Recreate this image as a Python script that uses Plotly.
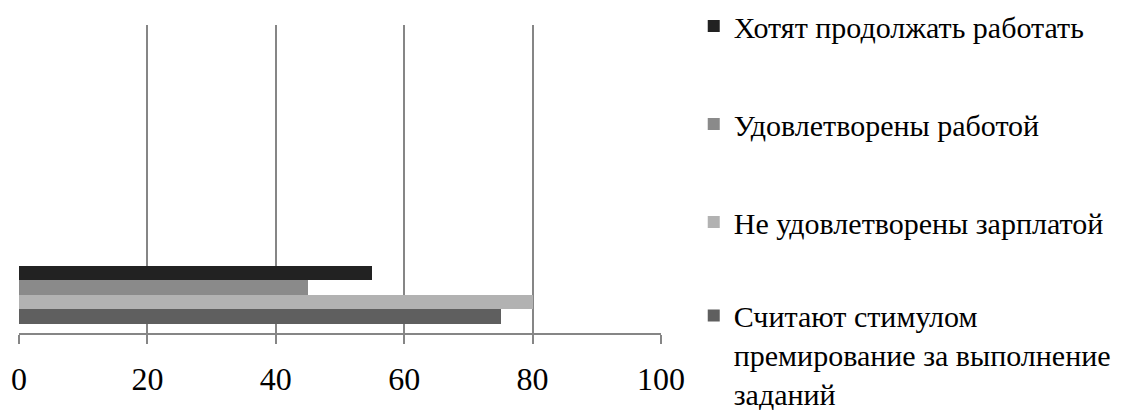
import plotly.graph_objects as go

category = [0]
series_names = [
    "Считают стимулом<br>премирование за выполнение<br>заданий",
    "Не удовлетворены зарплатой",
    "Удовлетворены работой",
    "Хотят продолжать работать",
]
series_values = [75, 80, 45, 55]
series_colors = ["#5f5f5f", "#b2b2b2", "#8a8a8a", "#222222"]
legend_ranks = [4, 3, 2, 1]
legend_ids = ["legend2", "legend", "legend", "legend"]
x_ticks = [0, 20, 40, 60, 80, 100]

FONT = "Liberation Serif"
LEG_FONT = dict(size=30, family=FONT, color="black")

fig = go.Figure()
for name, val, col, rank, leg in zip(series_names, series_values, series_colors,
                                     legend_ranks, legend_ids):
    fig.add_trace(go.Bar(
        y=category, x=[val], name=name, orientation="h",
        marker=dict(color=col, line=dict(width=0)),
        legendgroup=f"g{rank}", legendrank=rank, legend=leg,
    ))

fig.update_layout(
    width=1137, height=410,
    paper_bgcolor="white", plot_bgcolor="white",
    margin=dict(l=19, r=476, t=25, b=77, autoexpand=False),
    barmode="group", bargap=0, bargroupgap=0,
    font=dict(family=FONT, color="black", size=30),
    showlegend=True,
    legend=dict(
        x=1.051, xanchor="left", y=1.0, yanchor="top", yref="container",
        traceorder="grouped", tracegroupgap=56, maxheight=1000,
        valign="top", font=LEG_FONT, itemwidth=30, bgcolor="rgba(0,0,0,0)",
    ),
    legend2=dict(
        x=1.051, xanchor="left", y=0.294, yanchor="top", yref="container",
        maxheight=1000, valign="top", font=LEG_FONT, itemwidth=30,
        bgcolor="rgba(0,0,0,0)",
    ),
    xaxis=dict(
        range=[0, 100], tickvals=x_ticks, showgrid=True,
        gridcolor="#868686", gridwidth=1.5,
        showline=True, linecolor="#868686", linewidth=1.5,
        ticks="outside", ticklen=9, tickcolor="#868686", tickwidth=1.5,
        tickfont=dict(size=32, family=FONT, color="black"), zeroline=False,
        ticklabelstandoff=8,
    ),
    yaxis=dict(
        range=[-0.661, 4.677], showticklabels=False, showgrid=False,
        zeroline=False, showline=False, ticks="",
    ),
)

fig.write_html("out.html", config={"displayModeBar": False},
               post_script="document.body.style.margin='0px';")
